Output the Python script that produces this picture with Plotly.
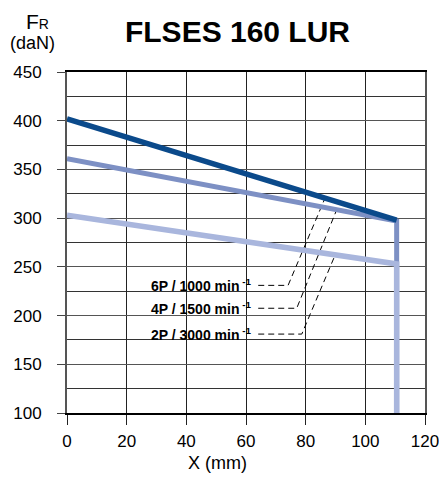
import plotly.graph_objects as go

# ---- data ----
x_6p = [0, 110.5]
y_6p = [402, 298]
x_4p = [0, 110.5, 110.5]
y_4p = [361, 297, 100]
x_2p = [0, 110.5, 110.5]
y_2p = [303, 253, 100]

labels = ["6P / 1000 min<sup> -1</sup>", "4P / 1500 min<sup> -1</sup>", "2P / 3000 min<sup> -1</sup>"]
label_y = [231, 207.5, 181]
label_x_end = 62.3
leader_x = [[64.1, 74.1, 86.5], [64.1, 77.0, 90.4], [64.1, 78.7, 89.9]]
leader_y = [[231, 231, 320.6], [207.5, 207.5, 308.6], [181, 181, 262.3]]

x_ticks = [0, 20, 40, 60, 80, 100, 120]
y_ticks = [100, 150, 200, 250, 300, 350, 400, 450]

DARK = "#0b4a8b"
MED = "#7d90c4"
LIGHT = "#a9b6dd"
FONT = "Liberation Sans, Arial, sans-serif"

fig = go.Figure()

# leader lines
for lx, ly in zip(leader_x, leader_y):
    fig.add_trace(go.Scatter(x=lx, y=ly, mode="lines",
                             line=dict(color="black", width=1, dash="6px,4px"),
                             hoverinfo="skip", showlegend=False))

fig.add_trace(go.Scatter(x=x_4p, y=y_4p, mode="lines", line=dict(color=MED, width=5), showlegend=False))
fig.add_trace(go.Scatter(x=x_2p, y=y_2p, mode="lines", line=dict(color=LIGHT, width=5.5), showlegend=False))
fig.add_trace(go.Scatter(x=x_6p, y=y_6p, mode="lines", line=dict(color=DARK, width=5.5), showlegend=False))

# white box behind labels
fig.add_shape(type="rect", xref="x", yref="y", x0=26.2, x1=63.7, y0=171.5, y1=243.5,
              fillcolor="white", line=dict(width=0), layer="below")

for t, yv in zip(labels, label_y):
    fig.add_annotation(x=label_x_end, y=yv, xref="x", yref="y", text="<b>" + t + "</b>",
                       showarrow=False, xanchor="right", yanchor="middle",
                       font=dict(family=FONT, size=14, color="black"))

# body margin is removed by the post script, so figure pixels = window pixels
W, H = 439, 480
PL, PT, PW, PH = 67, 72, 358, 341   # plot area in window pixels
L = PL
T = PT
R = W - L - PW
B = H - T - PH

def px(xp):
    return (xp - PL) / PW

def py(yp):
    return (PT + PH - yp) / PH

fig.add_annotation(x=px(37), y=py(22), xref="paper", yref="paper",
                   text="F<span style='font-size:14px'>R</span>", showarrow=False,
                   xanchor="center", yanchor="middle",
                   font=dict(family=FONT, size=21, color="black"))
fig.add_annotation(x=px(32), y=py(43), xref="paper", yref="paper",
                   text="(daN)", showarrow=False, xanchor="center", yanchor="middle",
                   font=dict(family=FONT, size=18, color="black"))
fig.add_annotation(x=px(217), y=py(463), xref="paper", yref="paper",
                   text="X (mm)", showarrow=False, xanchor="center", yanchor="middle",
                   font=dict(family=FONT, size=18, color="black"))

fig.update_layout(
    width=W, height=H,
    margin=dict(l=L, r=R, t=T, b=B, autoexpand=False),
    paper_bgcolor="white", plot_bgcolor="white",
    title=dict(text="<b>FLSES 160 LUR</b>", x=237.5 / W, xref="container", xanchor="center",
               y=1 - 31 / H, yref="container", yanchor="middle",
               font=dict(family=FONT, size=30, color="black")),
    xaxis=dict(range=[0, 120], tickvals=x_ticks, showgrid=True, gridcolor="#222", gridwidth=1,
               zeroline=False, showline=True, linecolor="black", linewidth=1.5, mirror=True,
               ticks="outside", ticklen=10, tickcolor="#222", tickwidth=1, automargin=False,
               ticklabeloverflow="allow",
               tickfont=dict(family=FONT, size=17, color="black"), ticklabelstandoff=2),
    yaxis=dict(range=[100, 450], tickvals=y_ticks, showgrid=True, gridcolor="#555", gridwidth=1,
               minor=dict(dtick=25, tick0=100, showgrid=True, gridcolor="#333", gridwidth=1, ticks=""),
               zeroline=False, showline=True, linecolor="#555", linewidth=2, mirror=True,
               ticks="outside", ticklen=8, tickcolor="#444", tickwidth=1, automargin=False,
               ticklabeloverflow="allow",
               tickfont=dict(family=FONT, size=17, color="black"), ticklabelstandoff=12),
)

fig.write_html(
    "out.html",
    config={"displayModeBar": False},
    post_script="document.body.style.margin='0';document.documentElement.style.overflow='hidden';document.body.style.overflow='hidden';",
)
